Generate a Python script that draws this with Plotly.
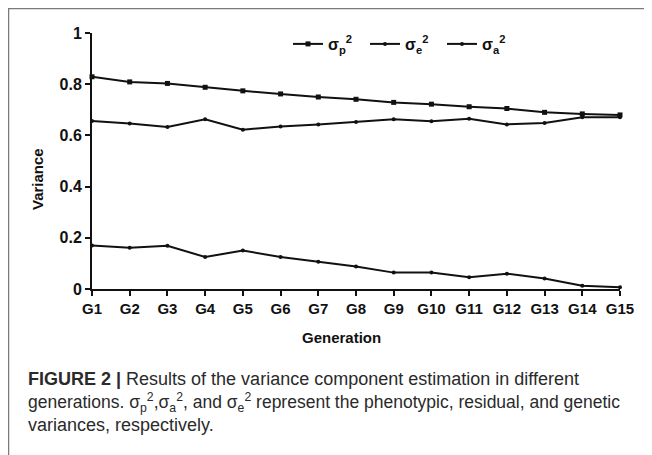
import plotly.graph_objects as go

generations = ["G1", "G2", "G3", "G4", "G5", "G6", "G7", "G8", "G9", "G10",
               "G11", "G12", "G13", "G14", "G15"]
sigma_p2 = [0.829, 0.809, 0.803, 0.788, 0.774, 0.762, 0.750, 0.741, 0.729,
            0.722, 0.712, 0.705, 0.690, 0.684, 0.680]
sigma_e2 = [0.656, 0.646, 0.633, 0.663, 0.622, 0.635, 0.643, 0.652, 0.663,
            0.655, 0.665, 0.643, 0.648, 0.671, 0.671]
sigma_a2 = [0.170, 0.161, 0.169, 0.125, 0.150, 0.125, 0.106, 0.088, 0.064,
            0.064, 0.046, 0.060, 0.041, 0.013, 0.007]
y_tickvals = [0, 0.2, 0.4, 0.6, 0.8, 1]
y_ticktext = ["0", "0.2", "0.4", "0.6", "0.8", "1"]
series_names = ["σ<sub>p</sub><sup>2</sup>", "σ<sub>e</sub><sup>2</sup>",
                "σ<sub>a</sub><sup>2</sup>"]

W, H = 652, 455
OFF = 8  # page body margin
# plot area bounds in page pixels
PL, PR, PT, PB = 92, 620, 33, 289
L, R, T, B = PL - OFF, PR - OFF, PT - OFF, PB - OFF


def px(x):
    return (x - OFF - L) / (R - L)


def py(y):
    return (B - (y - OFF)) / (B - T)


FONT = "Arial, Liberation Sans, sans-serif"
INK = "#111111"
fig = go.Figure()
styles = [("square", 5), ("circle", 4), ("circle", 4)]
for name, vals, (sym, sz) in zip(series_names, [sigma_p2, sigma_e2, sigma_a2], styles):
    fig.add_trace(go.Scatter(
        x=generations, y=vals, name=name, mode="lines+markers",
        line=dict(color=INK, width=2),
        marker=dict(symbol=sym, size=sz, color=INK),
        cliponaxis=False,
    ))

fig.update_layout(
    width=W, height=H,
    margin=dict(l=L, r=W - R, t=T, b=H - B, pad=0),
    paper_bgcolor="white", plot_bgcolor="white",
    font=dict(family=FONT, color=INK),
    showlegend=True,
    legend=dict(orientation="h", x=px(288), y=py(44), xanchor="left", yanchor="middle",
                font=dict(size=16, weight="bold", color=INK),
                bgcolor="rgba(0,0,0,0)", entrywidth=32, entrywidthmode="pixels"),
    xaxis=dict(
        type="category", range=[0, len(generations) - 1],
        showline=True, linecolor=INK, linewidth=2,
        ticks="outside", ticklen=5, tickwidth=2, tickcolor=INK,
        showgrid=False, zeroline=False,
        tickfont=dict(size=15, weight="bold", color=INK),
    ),
    yaxis=dict(
        range=[0, 1], tickvals=y_tickvals, ticktext=y_ticktext,
        showline=True, linecolor=INK, linewidth=2,
        ticks="outside", ticklen=5, tickwidth=2, tickcolor=INK,
        showgrid=False, zeroline=False,
        tickfont=dict(size=16, weight="bold", color=INK),
    ),
)

ann = []
ann.append(dict(text="Variance", x=px(37), y=py(179), xref="paper", yref="paper",
                textangle=-90, showarrow=False, xanchor="center", yanchor="middle",
                font=dict(size=15, weight="bold", color=INK)))
ann.append(dict(text="Generation", x=px(341), y=py(337), xref="paper", yref="paper",
                showarrow=False, xanchor="center", yanchor="middle",
                font=dict(size=15, weight="bold", color=INK)))
caption = [
    "<b>FIGURE 2 |</b> Results of the variance component estimation in different",
    "generations. σ<sub>p</sub><sup>2</sup>,σ<sub>a</sub><sup>2</sup>, and σ<sub>e</sub><sup>2</sup> represent the phenotypic, residual, and genetic",
    "variances, respectively.",
]
caption_sizes = [18, 17.5, 18]
for i, (line, fs) in enumerate(zip(caption, caption_sizes)):
    ann.append(dict(text=line, x=px(26), y=py(379 + 23 * i), xref="paper", yref="paper",
                    showarrow=False, xanchor="left", yanchor="middle",
                    font=dict(size=fs, color="#2a2a2a")))
fig.update_layout(annotations=ann)

fig.add_shape(type="rect", xref="paper", yref="paper",
              x0=px(8.5), x1=px(680), y0=py(480), y1=py(8.5),
              line=dict(color="#7a7a7a", width=1.5), fillcolor="rgba(0,0,0,0)", layer="below")

fig.write_html("out.html")
